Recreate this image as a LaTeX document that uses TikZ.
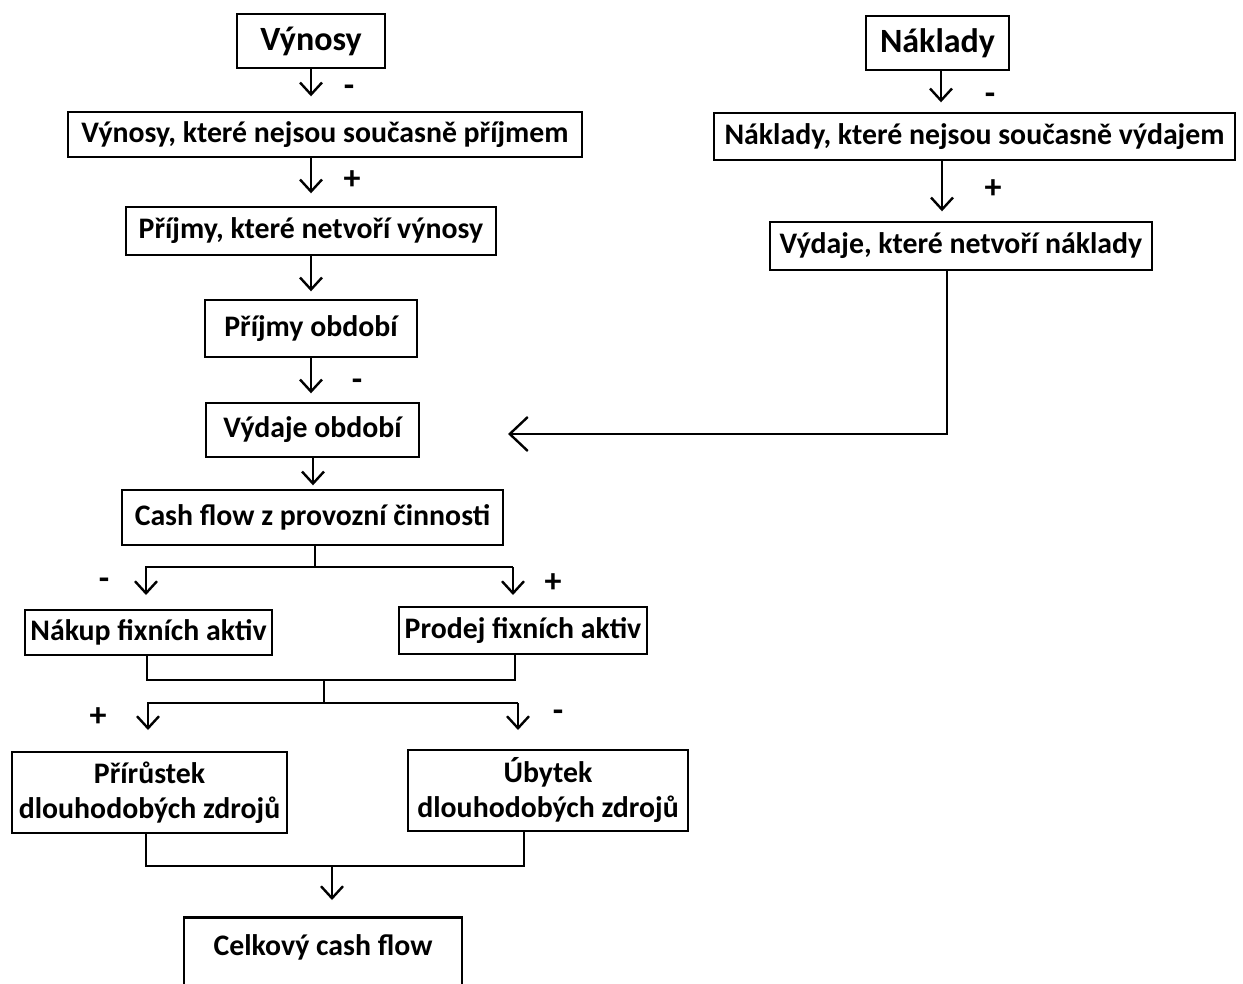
\documentclass[tikz,border=0pt]{standalone}
\usepackage{fontspec}
\setmainfont{Carlito}
\usetikzlibrary{arrows.meta}
\tikzset{>={Straight Barb[length=6pt,width=11pt]}}
\tikzset{box/.style={draw, line width=1.3pt, font=\bfseries\fontsize{14.9}{17.5}\selectfont, inner sep=0pt, align=center}}
\tikzset{head/.style={box, font=\bfseries\fontsize{17}{20}\selectfont}}
\tikzset{conn/.style={line width=1.2pt}}
\tikzset{bigtip/.style={-{Straight Barb[length=9pt,width=17pt]}}}
\tikzset{sign/.style={font=\bfseries\fontsize{17}{19}\selectfont}}

\begin{document}
\begin{tikzpicture}[x=0.5pt, y=-0.5pt]
\useasboundingbox (0,0) rectangle (1243,984);
\node [head, minimum width=74pt, minimum height=27pt] (vynosy) at (311,41) {Výnosy};
\node [box, minimum width=257pt, minimum height=22.5pt] (vnp) at (325,134.5) {Výnosy, které nejsou současně příjmem};
\node [box, minimum width=185pt, minimum height=24pt] (pnv) at (311,231) {Příjmy, které netvoří výnosy};
\node [box, minimum width=106pt, minimum height=28.5pt] (po) at (311,328.5) {Příjmy období};
\node [box, minimum width=106.5pt, minimum height=27pt] (vo) at (312.5,430) {Výdaje období};
\node [box, minimum width=190.5pt, minimum height=27.5pt] (cfp) at (312.5,517.5) {Cash flow z provozní činnosti};
\node [box, minimum width=123.5pt, minimum height=22.5pt] (nfa) at (148.5,632.5) {Nákup fixních aktiv};
\node [box, minimum width=124pt, minimum height=23.5pt] (pfa) at (523,630.5) {Prodej fixních aktiv};
\node [box, minimum width=137.5pt, minimum height=40.5pt] (pdz) at (149.5,792.5) {Přírůstek\\dlouhodobých zdrojů};
\node [box, minimum width=140pt, minimum height=40.5pt] (udz) at (548,790.5) {Úbytek\\dlouhodobých zdrojů};
\node [box, minimum width=139pt, minimum height=42pt, anchor=north, text depth=14pt] (ccf) at (323,916) {Celkový cash flow};

\node [head, minimum width=71.5pt, minimum height=27pt] (naklady) at (937.5,43) {Náklady};
\node [box, minimum width=260.5pt, minimum height=23.5pt] (nnv) at (974.5,136.5) {Náklady, které nejsou současně výdajem};
\node [box, minimum width=191pt, minimum height=24pt] (vnn) at (961,246) {Výdaje, které netvoří náklady};

\draw [conn, ->] (vynosy.south) -- ++(0,27);
\node [sign] (s1) at (349,91) {-};
\draw [conn, ->] (311,0 |- vnp.south) -- ++(0,35);
\node [sign] (s2) at (352,180) {+};
\draw [conn, ->] (pnv.south) -- ++(0,35);
\draw [conn, ->] (po.south) -- ++(0,35);
\node [sign] (s3) at (357,385) {-};
\draw [conn, ->] (313,0 |- vo.south) -- ++(0,27);

\coordinate (jl) at (146,567);
\coordinate (jr) at (513,567);
\draw [conn] (315,0 |- cfp.south) -- (315,567);
\draw [conn, ->] (jr) -- (jl) -- ++(0,28);
\draw [conn, ->] (jr) -- ++(0,28);
\node [sign] (s4) at (104,584) {-};
\node [sign] (s5) at (553,583) {+};

\coordinate (m1) at (324,680);
\draw [conn] (147,0 |- nfa.south) |- (m1) -| (515,0 |- pfa.south);
\coordinate (kl) at (148,703);
\coordinate (kr) at (518,703);
\draw [conn] (m1) -- (324,703);
\draw [conn, ->] (kr) -- (kl) -- ++(0,27);
\draw [conn, ->] (kr) -- ++(0,27);
\node [sign] (s6) at (98,717) {+};
\node [sign] (s7) at (558,716) {-};

\coordinate (m2) at (332,866);
\draw [conn] (146,0 |- pdz.south) |- (m2) -| (524,0 |- udz.south);
\draw [conn, ->] (m2) -- ++(0,34);

\draw [conn, ->] (941,0 |- naklady.south) -- ++(0,31);
\node [sign] (s8) at (990,99) {-};
\draw [conn, ->] (942,0 |- nnv.south) -- ++(0,50);
\node [sign] (s9) at (993,189) {+};
\coordinate (vin) at (508,434);
\draw [conn, bigtip] (947,0 |- vnn.south) |- (vin);
\end{tikzpicture}
\end{document}
